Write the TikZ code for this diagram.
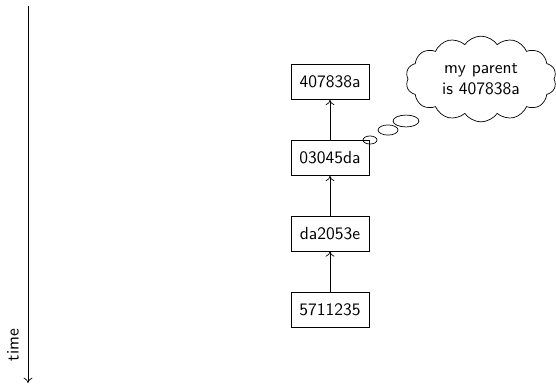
\documentclass[tikz,border=0pt]{standalone}
\usetikzlibrary{shapes.symbols,arrows.meta}
\begin{document}
\begin{tikzpicture}[x=0.5714pt,y=-0.5714pt,
  font=\sffamily,
  commit/.style={draw,rectangle,minimum width=44.6pt,minimum height=20pt,inner sep=2pt},
  parent/.style={->,>={To[length=3pt,width=5pt]}},
  bubble/.style={draw,ellipse}]
  \useasboundingbox (0,0) rectangle (556,385);

  % time axis
  \coordinate (t0) at (28,6);
  \coordinate (t1) at (28,383);
  \draw[->,>={To[length=3pt,width=5pt]}] (t0) -- (t1);
  \node[rotate=90] (time) at (13,345) {time};

  % commits
  \node[commit] (c4) at (330,82) {407838a};
  \node[commit] (c3) at (330,158) {03045da};
  \node[commit] (c2) at (330,233.5) {da2053e};
  \node[commit] (c1) at (330,309.5) {5711235};

  \draw[parent] (c1) -- (c2);
  \draw[parent] (c2) -- (c3);
  \draw[parent] (c3) -- (c4);

  % thought cloud
  \node[cloud,draw,cloud puffs=14,cloud puff arc=110,aspect=1.7,
        minimum width=86pt,minimum height=49pt,inner sep=0pt,
        align=center] (thought) at (481,79) {my parent\\is 407838a};
  \draw (370,140) ellipse (4pt and 2.3pt);
  \draw (388,130) ellipse (5.7pt and 2.9pt);
  \draw (406,121) ellipse (7.4pt and 3.4pt);
\end{tikzpicture}
\end{document}
